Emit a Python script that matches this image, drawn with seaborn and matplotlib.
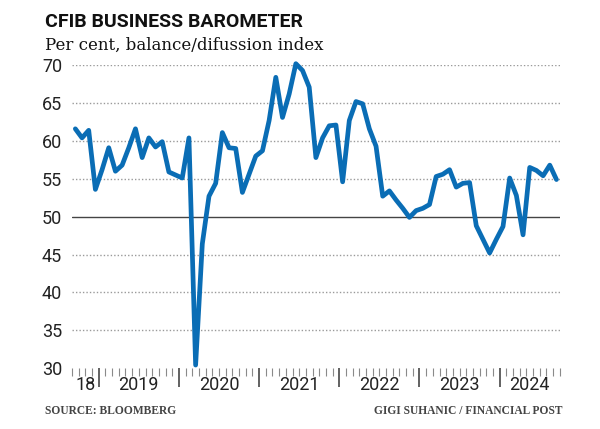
import numpy as np
import pandas as pd
import matplotlib
matplotlib.use("Agg")
import matplotlib.pyplot as plt
import seaborn as sns

# ----------------------------------------------------------
# DATA  (monthly, Sep 2018 -> Sep 2024)
# ----------------------------------------------------------

barometer = [
    61.6, 60.4, 61.4, 53.6,                                            # 2018
    56.2, 59.1, 56.0, 56.8, 59.1, 61.6, 57.8, 60.4, 59.2, 59.9, 55.9, 55.5,  # 2019
    55.1, 60.4, 30.4, 46.4, 52.7, 54.4, 61.1, 59.1, 59.0, 53.2, 55.6, 58.0,  # 2020
    58.7, 62.7, 68.4, 63.1, 66.2, 70.2, 69.3, 67.1, 57.8, 60.4, 62.0, 62.1,  # 2021
    54.6, 62.7, 65.2, 64.9, 61.6, 59.3, 52.7, 53.4, 52.2, 51.1, 49.9, 50.8,  # 2022
    51.1, 51.6, 55.3, 55.6, 56.2, 53.9, 54.4, 54.5, 48.8, 47.0, 45.2, 47.0,  # 2023
    48.7, 55.1, 52.8, 47.6, 56.5, 56.1, 55.4, 56.8, 54.9,                    # 2024
]

year_labels = ["18", "2019", "2020", "2021", "2022", "2023", "2024"]
# month index (0 = Sep 2018) where each year segment starts, plus axis end (Oct 2024)
year_bounds = [0, 4, 16, 28, 40, 52, 64, 73]

y_ticks = [30, 35, 40, 45, 50, 55, 60, 65, 70]

df = pd.DataFrame({
    "month": np.arange(len(barometer)) + 0.5,
    "value": barometer,
})

# ----------------------------------------------------------
# PLOT
# ----------------------------------------------------------

sns.set_style("white")
sans = ["Roboto", "DejaVu Sans"]
serif = ["DejaVu Serif"]
serif_small = ["Liberation Serif", "DejaVu Serif"]

fig = plt.figure(figsize=(6, 4.29), dpi=100)
ax = fig.add_axes([0.12, 0.142, 0.813, 0.706])

for yv in y_ticks[1:]:
    if yv == 50:
        ax.axhline(yv, color="#444444", lw=1.0, zorder=1)
    else:
        ax.axhline(yv, color="#9a9a9a", lw=1.0, ls=(0, (1, 1.5)), zorder=1)

sns.lineplot(
    data=df, x="month", y="value",
    color="#0a6db5", linewidth=3.4, ax=ax, zorder=3, clip_on=False
)

ax.set_xlim(year_bounds[0], year_bounds[-1])
ax.set_ylim(30, 70)
ax.set_yticks(y_ticks)
ax.set_yticklabels([str(v) for v in y_ticks], fontsize=13, family=sans, color="#222222")
ax.tick_params(axis="y", length=0, pad=7)

ax.set_xticks(year_bounds[1:-1])
ax.set_xticks(np.arange(year_bounds[0], year_bounds[-1] + 1), minor=True)
ax.set_xticklabels([])
ax.tick_params(axis="x", which="both", bottom=True, direction="out")
ax.tick_params(axis="x", which="major", length=14, width=1.3, color="#555555")
ax.tick_params(axis="x", which="minor", length=6, width=0.8, color="#8a8a8a")

for i, lab in enumerate(year_labels):
    mid = (year_bounds[i] + year_bounds[i + 1]) / 2
    ax.text(mid, -0.055, lab, transform=ax.get_xaxis_transform(),
            ha="center", va="center", fontsize=13, family=sans, color="#222222")

ax.set_xlabel("")
ax.set_ylabel("")
for s in ax.spines.values():
    s.set_visible(False)

fig.text(0.075, 0.938, "CFIB BUSINESS BAROMETER", fontsize=14, fontweight="bold",
         family=sans, color="#111111", va="baseline", ha="left")
fig.text(0.075, 0.885, "Per cent, balance/difussion index", fontsize=12,
         family=serif, color="#111111", va="baseline", ha="left")
fig.text(0.075, 0.035, "SOURCE: BLOOMBERG", fontsize=8.3, fontweight="bold",
         family=serif_small, color="#444444", va="baseline", ha="left")
fig.text(0.937, 0.035, "GIGI SUHANIC / FINANCIAL POST", fontsize=8.3, fontweight="bold",
         family=serif_small, color="#444444", va="baseline", ha="right")

fig.savefig("out.png", dpi=100)
